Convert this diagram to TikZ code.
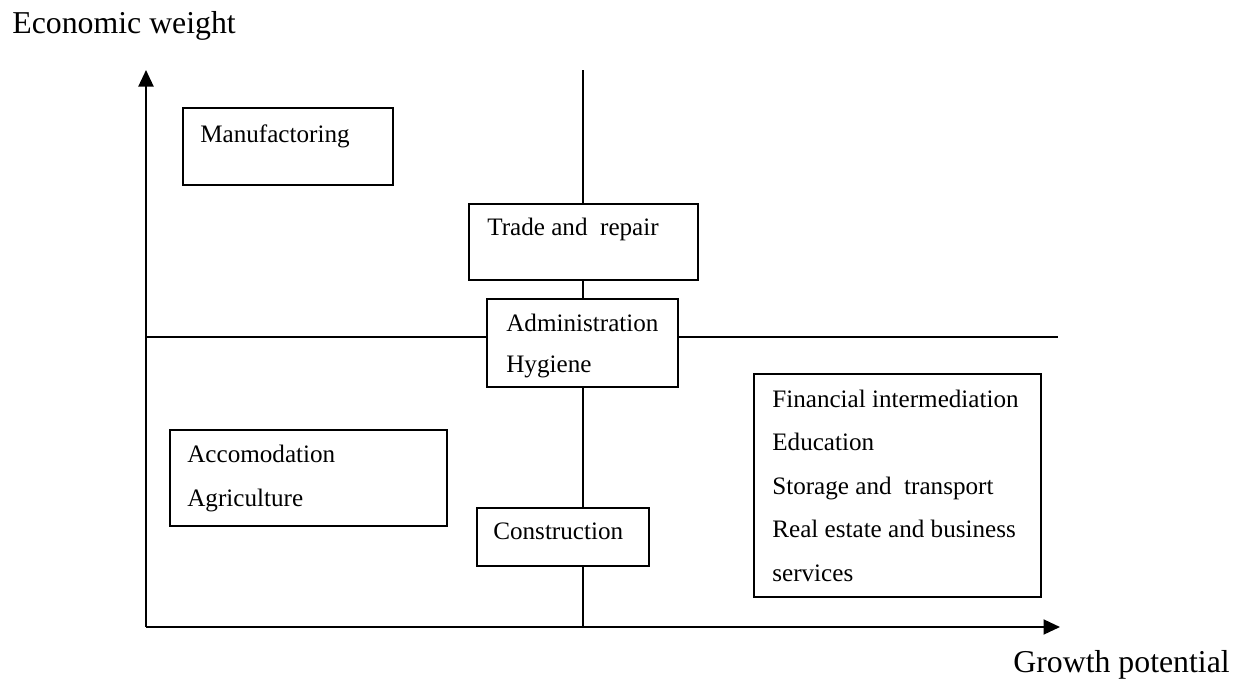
\documentclass[tikz,border=0pt]{standalone}
\usepackage{fontspec}
\setmainfont{Liberation Serif}
\usetikzlibrary{positioning,arrows.meta,fit}

\begin{document}
\begin{tikzpicture}[
  x=0.02cm, y=-0.02cm,
  sector/.style={draw, line width=1.1pt, fill=white, inner sep=0pt},
  sectortext/.style={anchor=base west, inner sep=0pt, align=left,
                     font=\fontsize{14.3pt}{24.7pt}\selectfont},
  axislabel/.style={anchor=base west, inner sep=0pt,
                    font=\fontsize{18.1pt}{22pt}\selectfont},
  axis/.style={line width=1.1pt, -{Triangle[length=0.33cm, width=0.3cm]}},
  divider/.style={line width=1pt},
]
\useasboundingbox (0,0) rectangle (1241,680);

% axes and quadrant lines
\coordinate (origin) at (146,627);
\coordinate (ytop) at (146,70);
\coordinate (xend) at (1060,627);
\coordinate (vtop) at (583,70);
\coordinate (vbot) at (583,627);
\coordinate (hleft) at (146,337);
\coordinate (hright) at (1058,337);

\draw[divider] (vtop) -- (vbot);
\draw[divider] (hleft) -- (hright);
\draw[axis] (origin) -- (ytop);
\draw[axis] (origin) -- (xend);

% sector boxes, drawn over the lines
\node[sector, fit={(183,108) (393,185)}] (manuf) {};
\node[sector, fit={(469,204) (698,280)}] (trade) {};
\node[sector, fit={(487,299) (678,387)}] (admin) {};
\node[sector, fit={(170,430) (447,526)}] (accom) {};
\node[sector, fit={(477,508) (649,566)}] (constr) {};
\node[sector, fit={(754,374) (1041,597)}] (finance) {};

% sector names (multi-line ones sit on their last baseline)
\node[sectortext] (manuf-txt) at (200,142) {Manufactoring};
\node[sectortext] (trade-txt) at (487,235) {Trade and\ \ repair};
\node[sectortext] (admin-txt) at (506,372) {Administration\\[-1.5pt]Hygiene};
\node[sectortext] (accom-txt) at (187,506) {Accomodation\\Agriculture};
\node[sectortext] (constr-txt) at (493,539) {Construction};
\node[sectortext] (finance-txt) at (772,581)
  {Financial intermediation\\Education\\Storage and\ \ transport\\Real estate and business\\services};

% axis names
\node[axislabel] (ylabel) at (12,33) {Economic weight};
\node[axislabel] (xlabel) at (1013,672) {Growth potential};

\end{tikzpicture}
\end{document}
